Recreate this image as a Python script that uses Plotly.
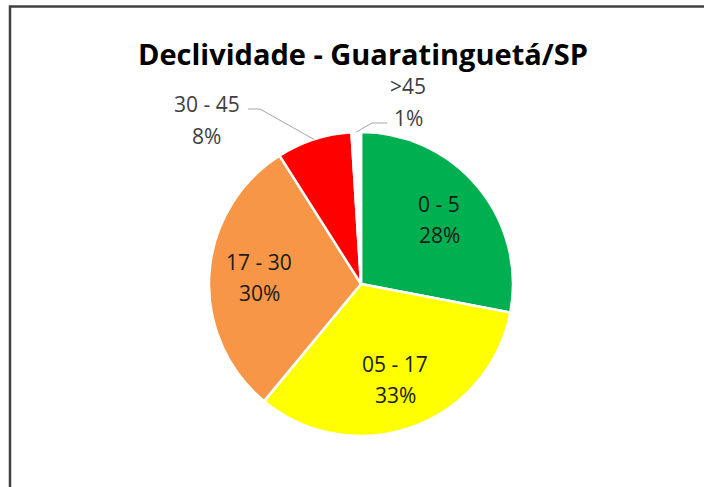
import math
import plotly.graph_objects as go

# ---- data ----
labels = ["0 - 5", "05 - 17", "17 - 30", "30 - 45", ">45"]
values = [28, 33, 30, 8, 1]
colors = ["#00B050", "#FFFF00", "#F79646", "#FF0000", "#FFFFFF"]
title_text = "Declividade - Guaratinguetá/SP"

# ---- layout constants (pixels) ----
W, H = 704, 487
CX, CY, R = 361, 284, 152
INSIDE_R = 0.67
PITCH = 31
FONT = "Open Sans"
# outside labels: label center (px), elbow point of leader line (px), line end near text
OUTSIDE = {
    3: dict(center=(207, 120), elbow=(260, 109), tail=(248, 109)),
    4: dict(center=(408, 102), elbow=(372, 123), tail=(387, 123)),
}


def px2paper(x, y):
    return x / W, 1 - y / H


total = sum(values)
fig = go.Figure()
fig.add_trace(go.Pie(
    labels=labels, values=values, sort=False, direction="clockwise", rotation=0,
    marker=dict(colors=colors, line=dict(color="white", width=2.5)),
    textinfo="none", hoverinfo="skip", showlegend=False,
    domain=dict(x=[(CX - R) / W, (CX + R) / W], y=[1 - (CY + R) / H, 1 - (CY - R) / H]),
))

annotations = []
shapes = []
cum = 0
for i, (lab, v) in enumerate(zip(labels, values)):
    theta = 2 * math.pi * (cum + v / 2) / total
    cum += v
    pct = f"{round(100 * v / total)}%"
    sx, sy = math.sin(theta), -math.cos(theta)
    if i in OUTSIDE:
        cx, cy = OUTSIDE[i]["center"]
        color = "#404040"
        ex, ey = CX + R * sx, CY + R * sy
        el = OUTSIDE[i]["elbow"]
        tl = OUTSIDE[i]["tail"]
        pts = [px2paper(ex, ey), px2paper(*el), px2paper(*tl)]
        path = "M {} {} L {} {} L {} {}".format(*[c for p in pts for c in p])
        shapes.append(dict(type="path", xref="paper", yref="paper", path=path,
                           line=dict(color="#A6A6A6", width=1)))
    else:
        cx, cy = CX + INSIDE_R * R * sx, CY + INSIDE_R * R * sy
        color = "#1A1A1A"
    for text, dy in ((lab, -PITCH / 2), (pct, PITCH / 2)):
        x, y = px2paper(cx, cy + dy)
        annotations.append(dict(x=x, y=y, xref="paper", yref="paper", text=text,
                                showarrow=False, xanchor="center", yanchor="middle",
                                font=dict(family=FONT, size=21, color=color)))

tx, ty = px2paper(363, 53)
annotations.append(dict(x=tx, y=ty, xref="paper", yref="paper", text=f"<b>{title_text}</b>",
                        showarrow=False, xanchor="center", yanchor="middle",
                        font=dict(family=FONT, size=29, color="#000000")))

# chart frame
shapes.append(dict(type="rect", xref="paper", yref="paper",
                   x0=10 / W, x1=720 / W, y0=1 - 520 / H, y1=1 - 6.5 / H,
                   line=dict(color="#404040", width=2.5), fillcolor="rgba(0,0,0,0)"))

fig.update_layout(
    width=W, height=H, margin=dict(l=0, r=0, t=0, b=0),
    paper_bgcolor="white", plot_bgcolor="white",
    annotations=annotations, shapes=shapes,
)
fig.write_html(
    "out.html",
    config={"displayModeBar": False},
    post_script="document.body.style.margin='0';document.body.style.overflow='hidden';",
)
